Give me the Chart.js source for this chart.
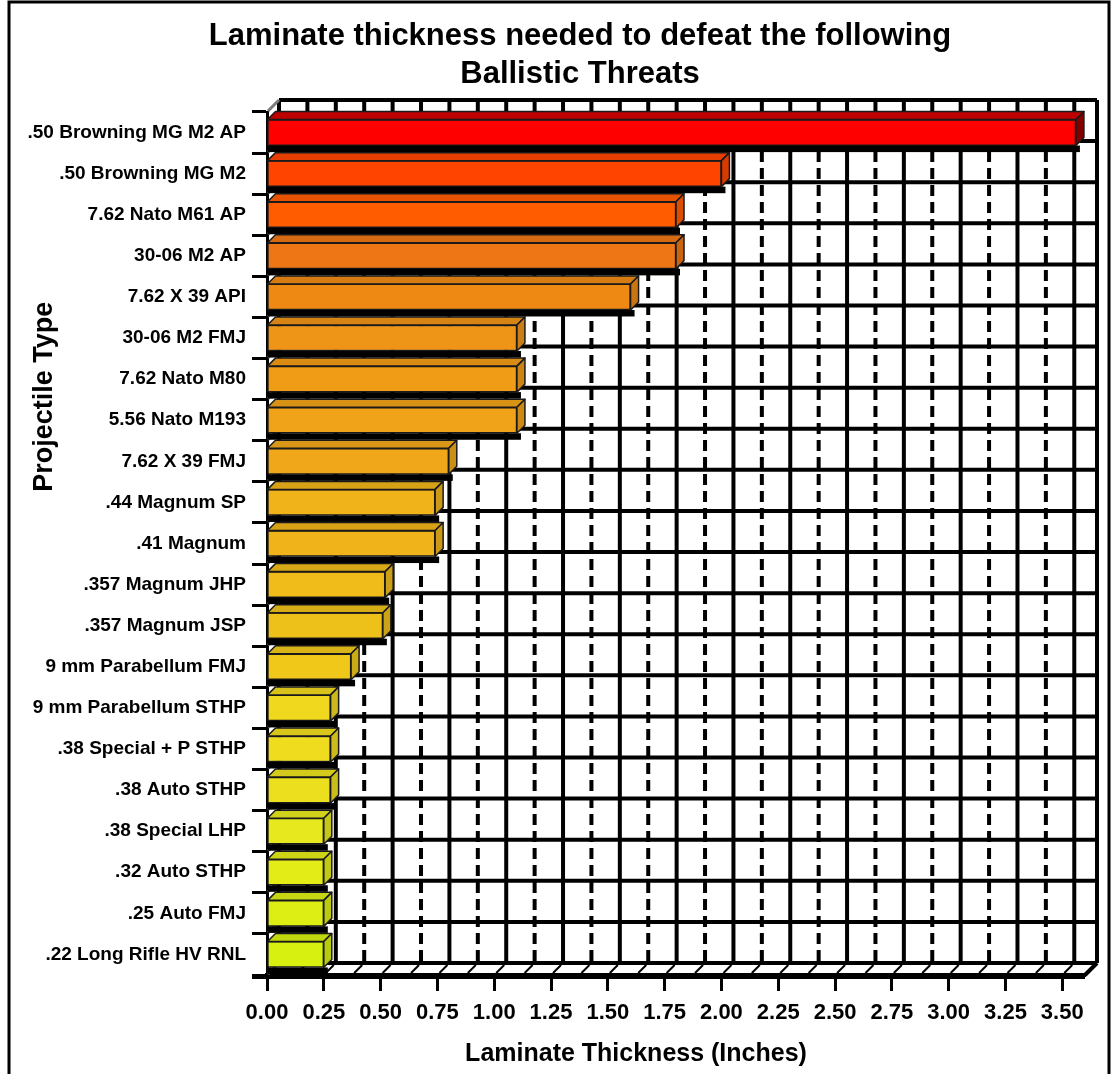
<!DOCTYPE html>
<html><head><meta charset="utf-8">
<script src="https://cdn.jsdelivr.net/npm/chart.js@4/dist/chart.umd.min.js"></script>
<style>html,body{margin:0;padding:0;background:#fff}#wrap{position:relative;width:1113px;height:1074px}</style>
</head><body><div id="wrap"><canvas id="c" width="1113" height="1074"></canvas></div>
<script>
const categories = [
  '.50 Browning MG M2 AP', '.50 Browning MG M2', '7.62 Nato M61 AP', '30-06 M2 AP', '7.62 X 39 API',
  '30-06 M2 FMJ', '7.62 Nato M80', '5.56 Nato M193', '7.62 X 39 FMJ', '.44 Magnum SP',
  '.41 Magnum', '.357 Magnum JHP', '.357 Magnum JSP', '9 mm Parabellum FMJ', '9 mm Parabellum STHP',
  '.38 Special + P STHP', '.38 Auto STHP', '.38 Special LHP', '.32 Auto STHP', '.25 Auto FMJ',
  '.22 Long Rifle HV RNL'
];
const thickness = [3.56, 2.0, 1.8, 1.8, 1.6, 1.1, 1.1, 1.1, 0.8, 0.74, 0.74, 0.52, 0.51, 0.37, 0.28, 0.28, 0.28, 0.25, 0.25, 0.25, 0.25];
const barColors = ['#ff0000', '#ff4400', '#ff5c00', '#ee7614', '#ee8a14', '#ee9416', '#f09c16', '#f0a218', '#f0a81a', '#f0b41a',
  '#f0b41a', '#f0bc1a', '#eec01a', '#f0c81a', '#f0d81e', '#f0dc1e', '#ece01e', '#e8e81e', '#e4ec18', '#dcee14', '#d8f010'];
const xMin = 0, xMax = 3.6, xStep = 0.25, xLastTick = 3.5;
const titleLines = ['Laminate thickness needed to defeat the following', 'Ballistic Threats'];
const xTitle = 'Laminate Thickness (Inches)';
const yTitle = 'Projectile Type';

const WALL = 12, BAR_D = 8;
function shade(hex, f) {
  const n = parseInt(hex.slice(1), 16);
  const r = Math.round(((n >> 16) & 255) * f), g = Math.round(((n >> 8) & 255) * f), b = Math.round((n & 255) * f);
  return 'rgb(' + r + ',' + g + ',' + b + ')';
}
function line(ctx, x1, y1, x2, y2) { ctx.beginPath(); ctx.moveTo(x1, y1); ctx.lineTo(x2, y2); ctx.stroke(); }

const decor = {
  id: 'decor',
  beforeDraw(chart) {
    const ctx = chart.ctx;
    ctx.save();
    ctx.fillStyle = '#fff'; ctx.fillRect(0, 0, chart.width, chart.height);
    ctx.strokeStyle = '#000'; ctx.lineWidth = 3;
    ctx.beginPath(); ctx.moveTo(9, chart.height); ctx.lineTo(9, 2); ctx.lineTo(chart.width - 4, 2); ctx.lineTo(chart.width - 4, chart.height); ctx.stroke();
    ctx.restore();
  },
  beforeDatasetsDraw(chart) {
    const ctx = chart.ctx, ca = chart.chartArea, xs = chart.scales.x, ys = chart.scales.y;
    const top = ca.top - WALL, bottom = ca.bottom - WALL;
    ctx.save();
    ctx.strokeStyle = '#000';
    ctx.lineWidth = 4; ctx.setLineDash([11, 6]);
    xs.ticks.forEach(t => {
      const v = t.value + xStep / 2;
      if (v < xMax) { const px = xs.getPixelForValue(v) + WALL; line(ctx, px, top, px, bottom); }
    });
    ctx.setLineDash([]);
    xs.ticks.forEach(t => { const px = xs.getPixelForValue(t.value) + WALL; line(ctx, px, top, px, bottom); });
    line(ctx, ca.right + WALL, top, ca.right + WALL, bottom);
    for (let i = 0; i <= categories.length; i++) {
      const yb = ys.getPixelForValue(i - 0.5) - WALL;
      line(ctx, ca.left + WALL, yb, ca.right + WALL, yb);
    }
    ctx.lineWidth = 2;
    xs.ticks.forEach(t => {
      [t.value, t.value + xStep / 2].forEach(v => {
        if (v < xMax) { const px = xs.getPixelForValue(v); line(ctx, px + 2, ca.bottom - 2, px + WALL - 2, bottom + 2); }
      });
    });
    ctx.lineWidth = 4;
    line(ctx, ca.right, ca.bottom, ca.right + WALL, bottom);
    line(ctx, ca.left - 15, ca.bottom + 2, ca.right, ca.bottom + 2);
    ctx.strokeStyle = '#7a7a7a'; ctx.lineWidth = 3;
    for (let i = 0; i <= categories.length; i++) {
      const yb = ys.getPixelForValue(i - 0.5);
      line(ctx, ca.left + 1, yb - 1, ca.left + WALL, yb - WALL);
    }
    ctx.restore();
  },
  afterDatasetsDraw(chart) {
    const ctx = chart.ctx, ys = chart.scales.y;
    const meta = chart.getDatasetMeta(0);
    ctx.save();
    meta.data.forEach((bar, i) => {
      const p = bar.getProps(['x', 'y', 'base', 'height'], true);
      const t = p.y - p.height / 2, b = p.y + p.height / 2, d = BAR_D;
      const rowBottom = ys.getPixelForValue(i + 0.5);
      const c = barColors[i];
      ctx.fillStyle = '#000';
      ctx.fillRect(p.base, b, p.x - p.base + d / 2, rowBottom - b - 1);
      ctx.lineWidth = 1.5; ctx.strokeStyle = '#1a1a1a'; ctx.lineJoin = 'round';
      ctx.beginPath(); ctx.moveTo(p.base, t); ctx.lineTo(p.x, t); ctx.lineTo(p.x + d, t - d); ctx.lineTo(p.base + d, t - d); ctx.closePath();
      ctx.fillStyle = shade(c, i === 0 ? 0.75 : 0.9); ctx.fill(); ctx.stroke();
      ctx.beginPath(); ctx.moveTo(p.x, t); ctx.lineTo(p.x + d, t - d); ctx.lineTo(p.x + d, b - d); ctx.lineTo(p.x, b); ctx.closePath();
      ctx.fillStyle = shade(c, i === 0 ? 0.5 : 0.85); ctx.fill(); ctx.stroke();
    });
    ctx.restore();
  },
  afterDraw(chart) {
    const ctx = chart.ctx, ca = chart.chartArea;
    ctx.save();
    ctx.fillStyle = '#000'; ctx.textAlign = 'center'; ctx.textBaseline = 'alphabetic';
    ctx.font = 'bold 31px "Liberation Sans", Arial, sans-serif';
    ctx.fillText(titleLines[0], 580, 45);
    ctx.fillText(titleLines[1], 580, 83);
    ctx.font = 'bold 25px "Liberation Sans", Arial, sans-serif';
    ctx.fillText(xTitle, 636, 1061);
    ctx.translate(52, ca.top + (ca.bottom - ca.top) * 0.33);
    ctx.rotate(-Math.PI / 2);
    ctx.font = 'bold 27px "Liberation Sans", Arial, sans-serif';
    ctx.fillText(yTitle, 0, 0);
    ctx.restore();
  }
};

new Chart(document.getElementById('c'), {
  type: 'bar',
  data: {
    labels: categories,
    datasets: [{
      data: thickness,
      backgroundColor: barColors,
      borderColor: '#1a1a1a',
      borderWidth: 1.5,
      borderSkipped: false,
      barThickness: 26
    }]
  },
  options: {
    indexAxis: 'y',
    responsive: false,
    animation: false,
    layout: { padding: { top: 112, right: 28, left: 0, bottom: 0 } },
    plugins: { legend: { display: false }, tooltip: { enabled: false }, title: { display: false } },
    scales: {
      x: {
        type: 'linear', min: xMin, max: xMax,
        afterBuildTicks(s) {
          const ticks = [];
          for (let k = 0; xMin + k * xStep <= xLastTick + 1e-9; k++) ticks.push({ value: +(xMin + k * xStep).toFixed(4) });
          s.ticks = ticks;
        },
        ticks: {
          stepSize: xStep, color: '#000', padding: 9, maxRotation: 0, autoSkip: false,
          callback: v => Number(v).toFixed(2),
          font: { family: '"Liberation Sans", Arial, sans-serif', size: 22, weight: 'bold' }
        },
        grid: { drawOnChartArea: false, tickLength: 16, tickWidth: 3, tickColor: '#000', color: '#000' },
        border: { color: '#000', width: 4 },
        afterFit(s) { s.height = 99; }
      },
      y: {
        type: 'category',
        grid: { offset: true, drawOnChartArea: false, tickLength: 15, tickWidth: 3, tickColor: '#000', color: '#000' },
        border: { color: '#000', width: 3 },
        ticks: {
          color: '#000', padding: 6, autoSkip: false,
          font: { family: '"Liberation Sans", Arial, sans-serif', size: 19, weight: 'bold' }
        },
        afterFit(s) { s.width = 267; }
      }
    }
  },
  plugins: [decor]
});
</script>
</body></html>
